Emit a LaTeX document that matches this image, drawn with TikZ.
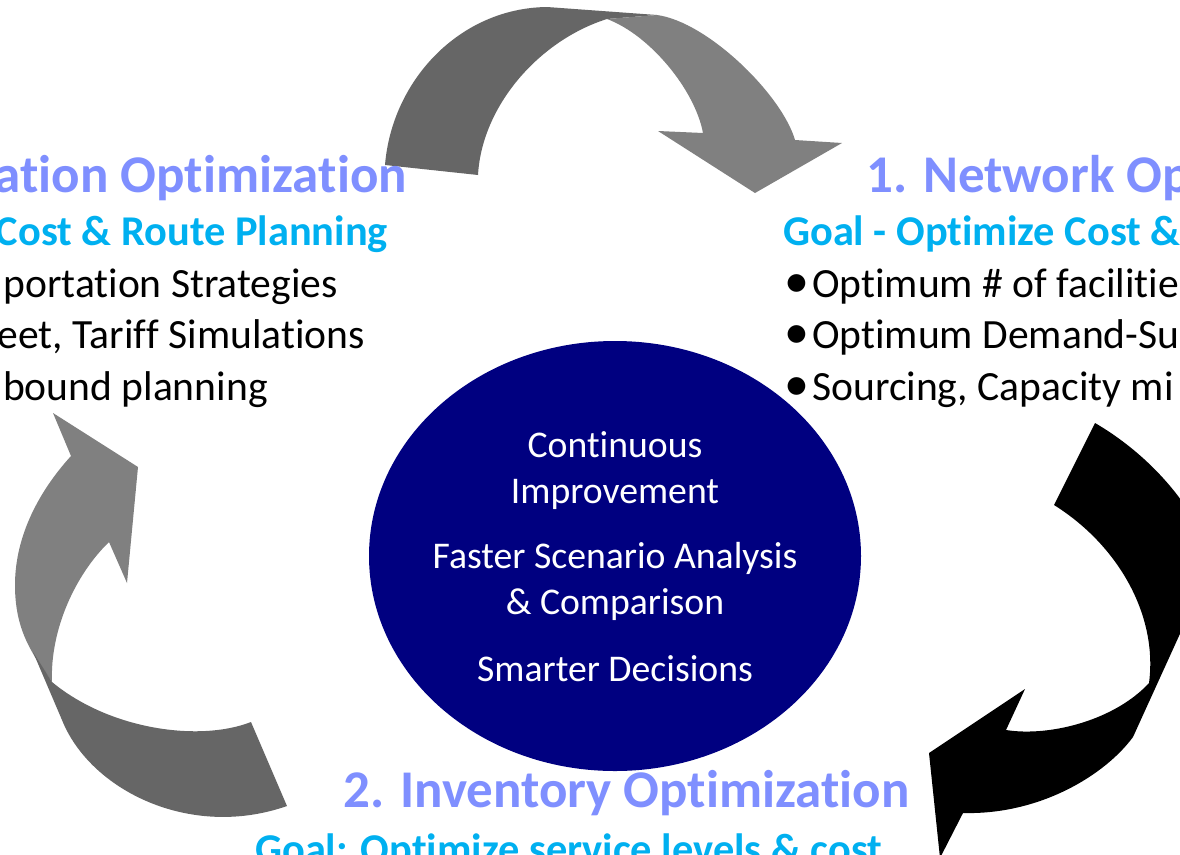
\documentclass[tikz,border=0pt]{standalone}
\usepackage{fontspec}
\setmainfont{Carlito}[Ligatures={NoCommon,NoRare}]
\definecolor{headc}{RGB}{127,143,255}
\definecolor{goalc}{RGB}{0,176,240}
\definecolor{navyc}{RGB}{0,0,128}
\definecolor{darkg}{RGB}{102,102,102}
\definecolor{lightg}{RGB}{128,128,128}
\newcommand{\bigbul}{\makebox[28pt][l]{\raisebox{-0.5pt}{\fontsize{50}{50}\selectfont •}}}
\newcommand{\tI}{t\kern0pt i}
\begin{document}
\begin{tikzpicture}[x=1pt,y=-1pt,
  headtxt/.style={font=\fontsize{53}{60}\selectfont\bfseries, text=headc, inner sep=0pt},
  goaltxt/.style={font=\fontsize{42.4}{48}\selectfont\bfseries, text=goalc, inner sep=0pt},
  bultxt/.style={font=\fontsize{41.6}{48}\selectfont, text=black, inner sep=0pt},
  ctrtxt/.style={font=\fontsize{37.7}{44}\selectfont, text=white, inner sep=0pt, anchor=base}]
\clip (0,0) rectangle (1180,854);
\fill[white] (0,0) rectangle (1180,854);
% top arrow
\fill[darkg] (385,165) .. controls (392,80) and (460,8) .. (547,7) -- (657,15) -- (607,19) .. controls (540,40) and (482,105) .. (478,175) -- cycle;
\fill[lightg] (607,19) -- (657,15) .. controls (708,22) and (782,95) .. (795,140) -- (842,143) -- (755,193) -- (658,131) -- (703,133) .. controls (695,90) and (650,35) .. (607,19) -- cycle;
% left arrow
\fill[lightg] (53,413) -- (138,467) -- (127,583) -- (109,542) .. controls (75,575) and (50,630) .. (52,682) -- (35,657) .. controls (25,640) and (15,620) .. (15,585) .. controls (15,535) and (40,490) .. (71,456) -- cycle;
\fill[darkg] (33,652) -- (62,720) .. controls (90,790) and (190,840) .. (287,806) -- (251,722) .. controls (200,742) and (110,730) .. (52,682) -- cycle;
% right arrow
\fill[black] (1095,423) .. controls (1150,455) and (1200,510) .. (1215,570) -- (1194,603) -- (1133,737) .. controls (1105,775) and (1040,815) .. (963,813) -- (940,858) -- (929,753) -- (1025,689) -- (1006,730) .. controls (1050,737) and (1115,720) .. (1149,683) .. controls (1158,615) and (1118,545) .. (1054,505) -- cycle;
% centre ellipse
\fill[navyc] (615,556) ellipse [x radius=246, y radius=215];
\node[ctrtxt] (c1) at (615,457) {Con\tI nuous};
\node[ctrtxt] (c2) at (615,503) {Improvement};
\node[ctrtxt] (c3) at (615,568) {Faster Scenario Analysis};
\node[ctrtxt] (c4) at (615,614) {\& Comparison};
\node[ctrtxt] (c5) at (615,681) {Smarter Decisions};
% left block
\node[headtxt, anchor=base east] (lh) at (407,192) {a\tI on Op\tI miza\tI on};
\node[goaltxt, anchor=base east] (lg) at (388,245) {Cost \& Route Planning};
\node[bultxt, anchor=base east] (lb1) at (338,297) {porta\tI on Strategies};
\node[bultxt, anchor=base east] (lb2) at (365,348) {eet, Tarif\kern0pt f Simula\tI ons};
\node[bultxt, anchor=base east] (lb3) at (268,400) {bound planning};
% right block
\node[headtxt, anchor=base west] (rh) at (866,192) {1. Network Op};
\node[goaltxt, anchor=base west] (rg) at (783,245) {Goal - Op\tI mize Cost \&};
\node[bultxt, anchor=base west] (rb1) at (784,297) {\bigbul Op\tI mum \# of facili\tI e};
\node[bultxt, anchor=base west] (rb2) at (784,348) {\bigbul Op\tI mum Demand-Su};
\node[bultxt, anchor=base west] (rb3) at (784,400) {\bigbul Sourcing, Capacity mi};
% bottom block
\node[headtxt, anchor=base west] (bh) at (343,807) {2. Inventory Op\tI miza\tI on};
\node[goaltxt, anchor=base west] (bg) at (255,863) {Goal: Op\tI mize service levels \& cost};
\end{tikzpicture}
\end{document}
